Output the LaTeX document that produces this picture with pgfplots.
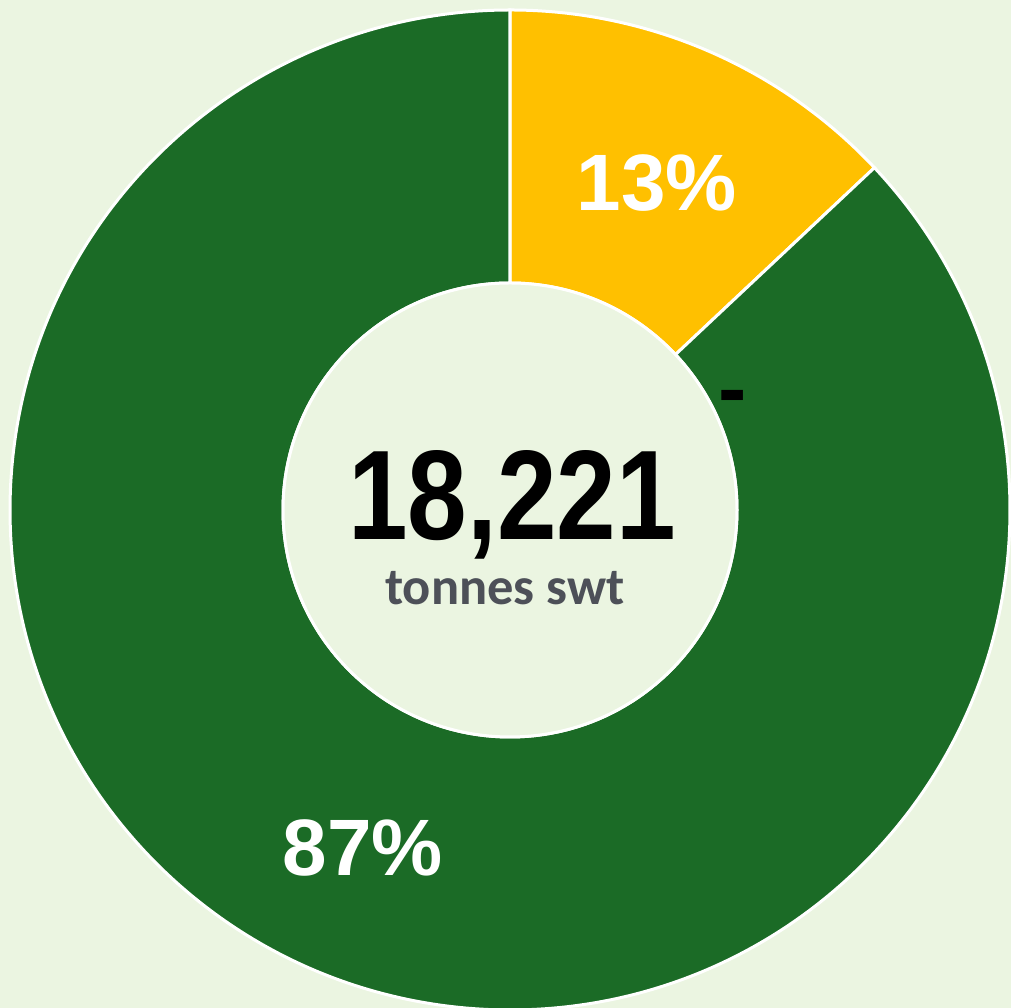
\documentclass[border=0pt]{standalone}
\usepackage{pgfplots}
\usepackage{pgfplotstable}
\pgfplotsset{compat=1.18}
\usepackage{fontspec}
\setmainfont{Liberation Sans}
\newfontfamily\carlito{Carlito}
\definecolor{bgc}{RGB}{235,245,225}
\definecolor{ygold}{RGB}{255,192,0}
\definecolor{dgreen}{RGB}{27,107,38}
\definecolor{subgray}{RGB}{77,80,88}
\pgfplotstableread{
label value
Yellow 13
Green 87
Other 0
}\datatable
\begin{document}%
\begin{tikzpicture}
\pgfplotstablegetelem{0}{value}\of\datatable \let\vA\pgfplotsretval
\pgfplotstablegetelem{1}{value}\of\datatable \let\vB\pgfplotsretval
\pgfplotstablegetelem{2}{value}\of\datatable \let\vC\pgfplotsretval
\pgfmathsetmacro{\tot}{\vA+\vB+\vC}
\pgfmathsetmacro{\aA}{90}
\pgfmathsetmacro{\aB}{90-360*(\vA/\tot)}
\pgfmathsetmacro{\aC}{\aB-360*(\vB/\tot)}
\begin{axis}[
  name=donut,
  x=0.4pt, y=0.4pt,
  xmin=0, xmax=1011, ymin=0, ymax=1008,
  scale only axis, hide axis, clip=true,
]
\fill[bgc] (axis cs:0,0) rectangle (axis cs:1011,1008);
\begin{scope}[shift={(axis cs:510,498)}]
\filldraw[fill=ygold, draw=white, line width=1.2pt]
  (\aA:200pt) arc[start angle=\aA, end angle=\aB, radius=200pt]
  -- (\aB:90.8pt) arc[start angle=\aB, end angle=\aA, radius=90.8pt] -- cycle;
\filldraw[fill=dgreen, draw=white, line width=1.2pt]
  (\aB:200pt) arc[start angle=\aB, end angle=\aC, radius=200pt]
  -- (\aC:90.8pt) arc[start angle=\aC, end angle=\aB, radius=90.8pt] -- cycle;
\filldraw[fill=bgc, draw=white, line width=1.2pt] (0,0) circle[radius=90.8pt];
\end{scope}
\node[anchor=base, text=white, inner sep=0pt, font=\fontsize{32}{32}\selectfont\bfseries] at (axis cs:657,797) {13\%};
\node[anchor=base, text=white, inner sep=0pt, font=\fontsize{32}{32}\selectfont\bfseries] at (axis cs:363,132) {87\%};
\node[anchor=center, text=black, inner sep=0pt, font=\fontsize{34}{34}\selectfont\bfseries] at (axis cs:733,604) {-};
\node[anchor=base, text=black, inner sep=0pt] at (axis cs:512,468) {\scalebox{0.84}[1]{\fontsize{51}{51}\selectfont\bfseries 18,221}};
\node[anchor=base, text=subgray, inner sep=0pt, font=\carlito\fontsize{21}{21}\selectfont\bfseries] at (axis cs:505,403) {tonnes swt};
\end{axis}
\pgfresetboundingbox
\path[use as bounding box] (donut.south west) rectangle (donut.north east);
\end{tikzpicture}%
\end{document}
